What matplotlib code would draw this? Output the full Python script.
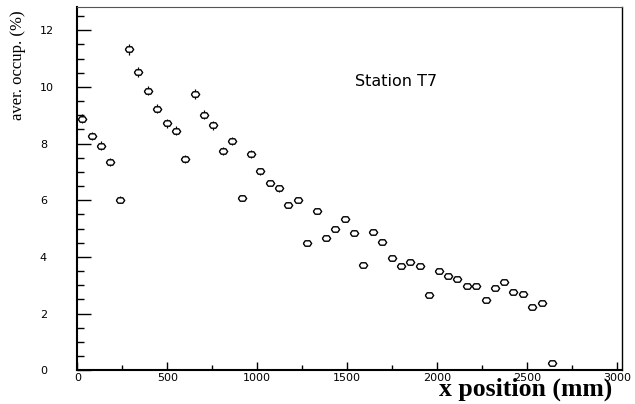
import matplotlib
matplotlib.use("Agg")
import matplotlib.pyplot as plt
from matplotlib.ticker import MultipleLocator

x_pos = [27, 80, 132, 183, 236, 287, 339, 391, 443, 497, 548, 600, 652, 704, 756,
         808, 861, 913, 965, 1017, 1069, 1120, 1172, 1224, 1276, 1330, 1382, 1434,
         1486, 1537, 1589, 1641, 1693, 1747, 1799, 1850, 1902, 1956, 2008, 2058,
         2109, 2163, 2217, 2269, 2321, 2371, 2422, 2476, 2528, 2582, 2637]
occup = [8.87, 8.27, 7.93, 7.35, 6.02, 11.33, 10.52, 9.87, 9.23, 8.71, 8.46, 7.44,
         9.74, 9.01, 8.64, 7.75, 8.09, 6.08, 7.63, 7.02, 6.61, 6.42, 5.83, 6.00,
         4.48, 5.63, 4.67, 5.00, 5.33, 4.85, 3.73, 4.88, 4.53, 3.96, 3.68, 3.82,
         3.67, 2.67, 3.49, 3.32, 3.23, 2.99, 2.99, 2.48, 2.92, 3.13, 2.77, 2.68,
         2.23, 2.38, 0.26]
occup_err = [0.16, 0.15, 0.15, 0.14, 0.12, 0.19, 0.18, 0.17, 0.16, 0.16, 0.15, 0.14,
             0.17, 0.16, 0.15, 0.14, 0.15, 0.12, 0.14, 0.13, 0.12, 0.12, 0.11, 0.11,
             0.1, 0.11, 0.1, 0.1, 0.1, 0.1, 0.09, 0.1, 0.09, 0.09, 0.08, 0.09,
             0.08, 0.07, 0.08, 0.08, 0.08, 0.07, 0.07, 0.07, 0.07, 0.07, 0.07, 0.07,
             0.06, 0.06, 0.03]

fig = plt.figure(figsize=(6.35, 4.04), dpi=100)
ax = fig.add_axes([0.1217, 0.0834, 0.9790 - 0.1217, 0.982 - 0.0834])

marker_verts = [(-1.0, 0.0), (-0.55, 0.65), (0.55, 0.65), (1.0, 0.0),
                (0.55, -0.65), (-0.55, -0.65), (-1.0, 0.0)]
ax.errorbar(x_pos, occup, yerr=occup_err, fmt='none', ecolor='black',
            elinewidth=0.9, capsize=0, zorder=2)
ax.plot(x_pos, occup, linestyle='none', marker=marker_verts, markersize=6,
        markerfacecolor='white', markeredgecolor='black', markeredgewidth=1.0,
        zorder=3)

ax.set_xlim(0, 3024)
ax.set_ylim(0, 12.81)
ax.xaxis.set_major_locator(MultipleLocator(500))
ax.xaxis.set_minor_locator(MultipleLocator(250))
ax.yaxis.set_major_locator(MultipleLocator(2))
ax.yaxis.set_minor_locator(MultipleLocator(0.5))

ax.tick_params(axis='y', which='major', direction='in', length=10, width=1.0,
               left=True, right=False, labelsize=8, pad=27)
ax.tick_params(axis='y', which='minor', direction='in', length=5, width=1.0,
               left=True, right=False)
ax.tick_params(axis='x', which='major', direction='in', length=6, width=1.0,
               bottom=True, top=False, labelsize=8, pad=2)
ax.tick_params(axis='x', which='minor', direction='in', length=3.5, width=1.0,
               bottom=True, top=False)
for lab in ax.get_yticklabels():
    lab.set_horizontalalignment('left')

for side in ['left', 'bottom']:
    ax.spines[side].set_linewidth(1.5)
ax.spines['right'].set_linewidth(1.0)
ax.spines['top'].set_linewidth(0.8)
ax.spines['top'].set_color('#555555')

ax.text(1770, 10.18, 'Station T7', fontsize=11.5, family='DejaVu Sans',
        ha='center', va='center')

fig.text(0.964, 0.021, 'x position (mm)', family='Liberation Serif',
         fontsize=18.5, fontweight='bold', ha='right', va='baseline')
fig.text(0.028, 0.975, 'aver. occup. (%)', family='Liberation Serif',
         fontsize=12, rotation=90, ha='center', va='top')

fig.savefig('out.png', dpi=100)
